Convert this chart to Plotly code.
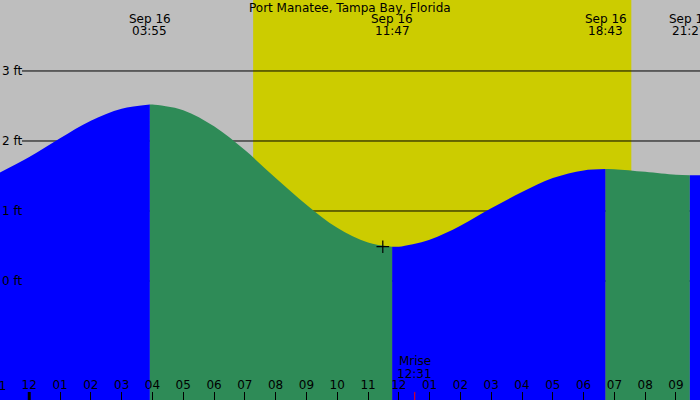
import plotly.graph_objects as go

# tide curve (hours from midnight Sep 16, feet)
tide_hours = [-0.95, 0, 1, 2, 3, 3.917,
              4, 5, 6, 7, 8, 9, 10, 11, 11.783,
              12, 13, 14, 15, 16, 17, 18, 18.717,
              19, 20, 21, 21.45,
              21.78]
tide_ft = [1.55, 1.77, 2.04, 2.29, 2.46, 2.52,
           2.52, 2.44, 2.21, 1.87, 1.47, 1.09, 0.76, 0.55, 0.49,
           0.49, 0.59, 0.79, 1.04, 1.27, 1.47, 1.58, 1.60,
           1.598, 1.56, 1.516, 1.51,
           1.512]

# high / low events
event_hours = [3.917, 11.783, 18.717, 21.45]
event_dates = ["Sep 16", "Sep 16", "Sep 16", "Sep 16"]
event_times = ["03:55", "11:47", "18:43", "21:27"]

sunrise, sunset = 7.27, 19.55
moonrise = 12.517
moonrise_text = ["Mrise", "12:31"]
low_mark = (11.48, 0.49)

hour_vals = list(range(-1, 22))
hour_text = ["11", "12", "01", "02", "03", "04", "05", "06", "07", "08", "09", "10",
             "11", "12", "01", "02", "03", "04", "05", "06", "07", "08", "09"]
ft_levels = [0, 1, 2, 3]

X_RANGE = [-0.95, 21.78]
Y_RANGE = [-1.7, 4.014]
BLUE, GREEN = "#0000FF", "#2E8B57"
FONT = "DejaVu Sans"
H = 400

fig = go.Figure()

# split the curve at each high/low and colour rising blue, falling green
cuts = [0] + [tide_hours.index(h) for h in event_hours] + [len(tide_hours) - 1]
for i in range(len(cuts) - 1):
    a, b = cuts[i], cuts[i + 1]
    xs = tide_hours[a:b + 1]
    ys = tide_ft[a:b + 1]
    color = BLUE if ys[-1] >= ys[0] else GREEN
    fig.add_trace(go.Scatter(x=[xs[0], xs[-1]], y=[Y_RANGE[0], Y_RANGE[0]], mode="lines",
                             line=dict(width=0), showlegend=False, hoverinfo="skip"))
    fig.add_trace(go.Scatter(x=xs, y=ys, mode="lines", fill="tonexty", fillcolor=color,
                             line=dict(width=0, shape="spline", color=color),
                             showlegend=False, hoverinfo="skip"))

fig.add_trace(go.Scatter(x=[low_mark[0]], y=[low_mark[1]], mode="markers",
                         marker=dict(symbol="cross-thin", size=9, line=dict(width=1.2, color="black")),
                         showlegend=False, hoverinfo="skip"))

shapes = [dict(type="rect", xref="x", yref="paper", x0=sunrise, x1=sunset, y0=0, y1=1,
               fillcolor="#CCCC00", line=dict(width=0), layer="below")]
for lv in ft_levels:
    shapes.append(dict(type="line", xref="paper", yref="y", x0=22 / 700, x1=1, y0=lv, y1=lv,
                       line=dict(color="black", width=1), layer="below"))
shapes.append(dict(type="line", xref="x", yref="paper", x0=0, x1=0, y0=0, y1=8 / H,
                   line=dict(color="black", width=3)))
shapes.append(dict(type="line", xref="x", yref="paper", x0=moonrise, x1=moonrise, y0=0, y1=8 / H,
                   line=dict(color="red", width=1)))


def label(text, x, y_px, xref="x", xanchor="center"):
    return dict(text=text, xref=xref, yref="paper", x=x, y=1 - y_px / H,
                xanchor=xanchor, yanchor="middle", showarrow=False,
                font=dict(family=FONT, size=12, color="black"))


annotations = [label("Port Manatee, Tampa Bay, Florida", 0.5, 7.5, xref="paper")]
for h, d, t in zip(event_hours, event_dates, event_times):
    annotations.append(label(d, h, 19))
    annotations.append(label(t, h, 31.5))
for lv in ft_levels:
    annotations.append(dict(text=f"{lv} ft", xref="paper", yref="y", x=0, y=lv,
                            xanchor="left", yanchor="middle", showarrow=False,
                            font=dict(family=FONT, size=12, color="black")))
annotations.append(label(moonrise_text[0], moonrise, 361))
annotations.append(label(moonrise_text[1], moonrise, 374))
# first hour label sits just left of the axis range, cut by the edge
first_x = (hour_vals[0] - X_RANGE[0]) / (X_RANGE[1] - X_RANGE[0])
annotations.append(label(hour_text[0], first_x, 385.5, xref="paper"))

fig.update_layout(
    width=700, height=H,
    margin=dict(l=0, r=0, t=0, b=0),
    paper_bgcolor="#BEBEBE",
    plot_bgcolor="#BEBEBE",
    shapes=shapes,
    annotations=annotations,
)
fig.update_xaxes(range=X_RANGE, tickvals=hour_vals, ticktext=hour_text,
                 ticks="inside", ticklen=8, tickcolor="black", tickwidth=1,
                 ticklabelposition="inside", showgrid=False, zeroline=False, showline=False,
                 tickfont=dict(family=FONT, size=12, color="black"))
fig.update_yaxes(range=Y_RANGE, visible=False, showgrid=False, zeroline=False)

fig.write_html("out.html", config={"displayModeBar": False},
               post_script="document.body.style.margin='0';")
